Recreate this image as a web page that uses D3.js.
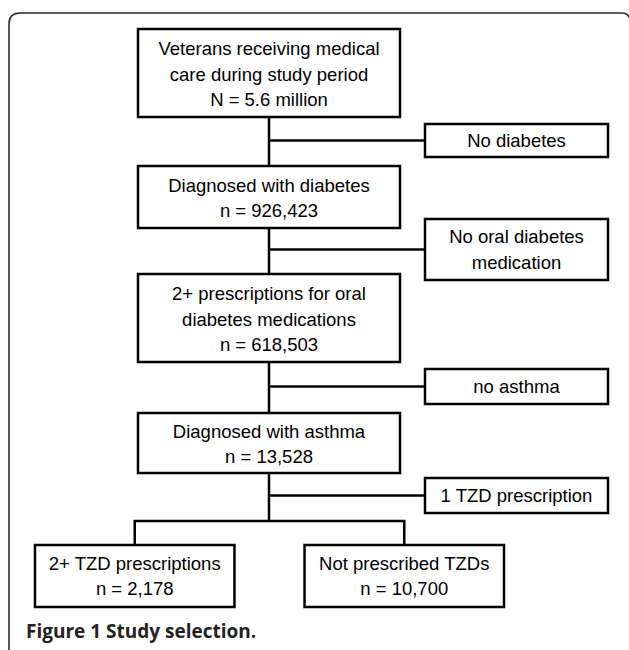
<!DOCTYPE html>
<html lang="en">
<head>
    <meta charset="UTF-8">
    <title>Study selection</title>
    <script src="https://d3js.org/d3.v7.min.js"></script>
    <style>
        body { margin: 0; padding: 0; background: #fff; overflow: hidden; }
        svg { display: block; }
        .box { fill: #fff; stroke: #000; stroke-width: 2.5px; }
        .link { fill: none; stroke: #000; stroke-width: 2.5px; }
        .label { font-family: "Liberation Sans", Arial, sans-serif; font-size: 18.5px; fill: #000; }
        .caption { font-family: "Open Sans", "Liberation Sans", sans-serif; font-size: 19px; font-weight: bold; fill: #222; }
    </style>
</head>
<body>
    <svg id="chart" width="629" height="650"></svg>

    <script>
        // main flow (top to bottom)
        const mainLabels = [
            ["Veterans receiving medical", "care during study period"],
            ["Diagnosed with diabetes"],
            ["2+ prescriptions for oral", "diabetes medications"],
            ["Diagnosed with asthma"]
        ];
        const mainCounts = ["N = 5.6 million", "n = 926,423", "n = 618,503", "n = 13,528"];

        // exclusions between steps
        const excludedLabels = [
            ["No diabetes"],
            ["No oral diabetes", "medication"],
            ["no asthma"],
            ["1 TZD prescription"]
        ];

        // final split
        const finalLabels = ["2+ TZD prescriptions", "Not prescribed TZDs"];
        const finalCounts = ["n = 2,178", "n = 10,700"];

        const caption = "Figure 1 Study selection.";

        // layout (pixels)
        const mainTop = [29, 166, 274, 413];
        const mainBottom = [117, 228, 362, 473];
        const sideTop = [124, 219, 369, 478];
        const sideBottom = [157, 280, 404, 513];
        const finalTop = 545, finalBottom = 607;
        const splitY = 521;

        const svg = d3.select("#chart");

        // outer frame (runs off the right and bottom edges)
        svg.append("path")
            .attr("d", "M9,680 L9,24 Q9,13 20,13 L622,13 Q628,13 630,19")
            .attr("fill", "none")
            .attr("stroke", "#2a2a2a")
            .attr("stroke-width", 1.6);

        const x = d3.scaleLinear().domain([0, 1]).range([138, 400]);   // main column
        const xSide = d3.scaleLinear().domain([0, 1]).range([425, 608]);
        const xFinal = d3.scaleBand().domain(finalLabels).range([35, 504]).paddingInner(0.26);
        const cx = (x(0) + x(1)) / 2;
        const lineH = 25.5;

        const g = svg.append("g");

        // connectors: main spine + side branches
        mainLabels.forEach((_, i) => {
            const y0 = mainBottom[i];
            const y1 = i < mainLabels.length - 1 ? mainTop[i + 1] : splitY;
            g.append("line").attr("class", "link")
                .attr("x1", cx).attr("x2", cx).attr("y1", y0).attr("y2", y1);
            const by = (sideTop[i] + sideBottom[i]) / 2;
            g.append("line").attr("class", "link")
                .attr("x1", cx).attr("x2", xSide(0)).attr("y1", by).attr("y2", by);
        });

        // split to the two final boxes
        const fc = finalLabels.map(d => xFinal(d) + xFinal.bandwidth() / 2);
        g.append("path").attr("class", "link")
            .attr("d", `M${fc[0]},${finalTop} L${fc[0]},${splitY} L${fc[1]},${splitY} L${fc[1]},${finalTop}`);

        function textBlock(lines, centerX, top, bottom) {
            const mid = (top + bottom) / 2;
            const start = mid - (lines.length - 1) * lineH / 2;
            lines.forEach((t, j) => {
                g.append("text").attr("class", "label")
                    .attr("x", centerX).attr("y", start + j * lineH)
                    .attr("text-anchor", "middle")
                    .attr("dominant-baseline", "central")
                    .text(t);
            });
        }

        // main boxes
        mainLabels.forEach((lines, i) => {
            g.append("rect").attr("class", "box")
                .attr("x", x(0)).attr("y", mainTop[i])
                .attr("width", x(1) - x(0)).attr("height", mainBottom[i] - mainTop[i]);
            textBlock(lines.concat([mainCounts[i]]), cx, mainTop[i] + 1, mainBottom[i] + 1);
        });

        // exclusion boxes
        excludedLabels.forEach((lines, i) => {
            g.append("rect").attr("class", "box")
                .attr("x", xSide(0)).attr("y", sideTop[i])
                .attr("width", xSide(1) - xSide(0)).attr("height", sideBottom[i] - sideTop[i]);
            textBlock(lines, (xSide(0) + xSide(1)) / 2, sideTop[i], sideBottom[i]);
        });

        // final boxes
        finalLabels.forEach((lab, i) => {
            g.append("rect").attr("class", "box")
                .attr("x", xFinal(lab)).attr("y", finalTop)
                .attr("width", xFinal.bandwidth()).attr("height", finalBottom - finalTop);
            textBlock([lab, finalCounts[i]], fc[i], finalTop, finalBottom);
        });

        svg.append("text").attr("class", "caption")
            .attr("x", 26).attr("y", 638)
            .text(caption);
    </script>
</body>
</html>
